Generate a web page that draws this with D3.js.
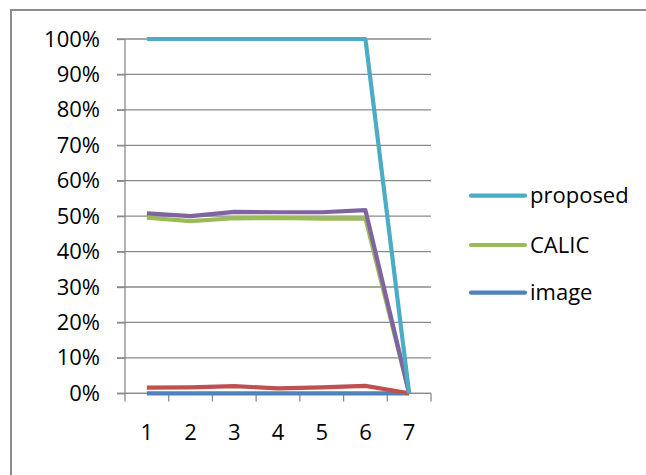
<!DOCTYPE html>
<html><head><meta charset="utf-8">
<script src="https://cdn.jsdelivr.net/npm/d3@7"></script>
<style>body{margin:0;background:#fff}svg{display:block}text{font-family:"Open Sans",sans-serif;fill:#000}</style>
</head><body><svg id="c" width="646" height="475"></svg>
<script>
const categories = ["1","2","3","4","5","6","7"];
const yTicks = [0,0.1,0.2,0.3,0.4,0.5,0.6,0.7,0.8,0.9,1.0];
const proposed = [1.0,1.0,1.0,1.0,1.0,1.0,0];
const calic    = [0.496,0.486,0.494,0.495,0.493,0.494,0];
const image    = [0,0,0,0,0,0,0];
const series4  = [0.016,0.017,0.020,0.014,0.017,0.021,0];
const series5  = [0.508,0.500,0.512,0.511,0.511,0.517,0];
const seriesNames = ["proposed","CALIC","image"];

const svg = d3.select("#c");
svg.append("rect").attr("x",11).attr("y",10).attr("width",700).attr("height",600)
  .attr("fill","#fff").attr("stroke","#8c8c8c").attr("stroke-width",2);

const x = d3.scaleBand().domain(categories).range([125,431]);
const y = d3.scaleLinear().domain([0,1]).range([393.3,39]);
const grid = "#8a8a8a";

// gridlines
svg.append("g").selectAll("line").data(yTicks).join("line")
  .attr("x1",117).attr("x2",431).attr("y1",d=>y(d)).attr("y2",d=>y(d))
  .attr("stroke",grid).attr("stroke-width",1.3);

// y axis
const ya = svg.append("g").attr("transform","translate(125,0)")
  .call(d3.axisLeft(y).tickValues(yTicks).tickFormat(d3.format(".0%")).tickSize(8).tickPadding(17));
ya.select(".domain").attr("stroke",grid).attr("stroke-width",1.3).attr("d","M0,39V393.3");
ya.selectAll(".tick line").attr("stroke",grid).attr("stroke-width",1.3);
ya.selectAll("text").style("font-size","22px").attr("fill","#000");

// x axis
const xa = svg.append("g").attr("transform","translate(0,393.3)")
  .call(d3.axisBottom(x).tickSize(0).tickPadding(31));
xa.select(".domain").attr("stroke",grid).attr("stroke-width",1.3).attr("d","M117,0H431");
xa.selectAll("text").style("font-size","22px").attr("fill","#000");
const bounds = [...categories.map(c=>x(c)), 431];
svg.append("g").selectAll("line").data(bounds).join("line")
  .attr("x1",d=>d).attr("x2",d=>d).attr("y1",393.3).attr("y2",401.5)
  .attr("stroke",grid).attr("stroke-width",1.3);

const cx = c => x(c) + x.bandwidth()/2;
const line = d3.line().x((d,i)=>cx(categories[i])).y(d=>y(d));
const data = [
  {v:image, c:"#4F81BD"},
  {v:series4, c:"#C0504D"},
  {v:calic, c:"#9BBB59"},
  {v:series5, c:"#8064A2"},
  {v:proposed, c:"#4BACC6"}
];
svg.append("g").selectAll("path").data(data).join("path")
  .attr("d",d=>line(d.v)).attr("fill","none").attr("stroke",d=>d.c)
  .attr("stroke-width",4.2).attr("stroke-linejoin","round");

// legend
const legColors = ["#4BACC6","#9BBB59","#4F81BD"];
const legY = [195.7,245,292.7];
const lg = svg.append("g").selectAll("g").data(seriesNames).join("g")
  .attr("transform",(d,i)=>`translate(0,${legY[i]})`);
lg.append("line").attr("x1",471).attr("x2",525).attr("y1",0).attr("y2",0)
  .attr("stroke",(d,i)=>legColors[i]).attr("stroke-width",4.2).attr("stroke-linecap","round");
lg.append("text").attr("x",530).attr("dy","0.35em").style("font-size","22px").text(d=>d);
</script></body></html>
